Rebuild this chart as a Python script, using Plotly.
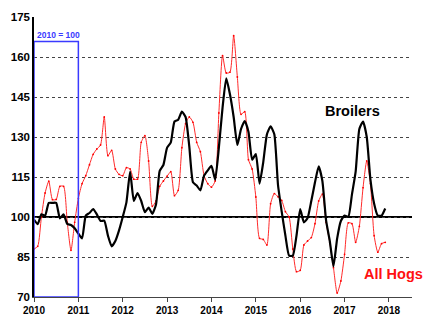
import plotly.graph_objects as go

start_year = 2010
broilers = [99, 97.3, 101, 100.5, 105.3, 105.3, 105.3, 99.5, 101, 97.4, 97, 95.8,
            93.8, 92, 100.5, 101.5, 103, 101, 98.5, 98.6, 93, 89, 91, 95,
            100, 105.5, 117, 106, 109, 106, 101.8, 103.5, 101.2, 104.7, 117.3, 119.5,
            126, 128, 135.8, 136.5, 139.5, 137.5, 126.5, 113, 111.8, 110, 115.5, 117.5,
            119.2, 114, 126, 141, 152, 146, 137.5, 127, 133, 136, 132, 121.5,
            123.6, 112.5, 120.5, 131, 134, 131, 112, 102, 93, 85.5, 85.5, 93,
            103, 98, 99.6, 106, 113, 119, 113.5, 98.7, 91, 81.5, 92, 98.5,
            100.5, 100, 108.5, 117, 133, 135.8, 130, 114, 105, 100.5, 100.5, 103.2]
hogs = [88, 89, 100, 109, 113.4, 106.5, 106.6, 111.5, 111.5, 98, 87.5, 98,
        107, 112.5, 115.5, 119.6, 123.5, 125.5, 127, 137.5, 123, 125, 118, 116,
        115.5, 118.5, 118, 114.2, 114.2, 128, 130.5, 121, 104, 106, 111.5, 113.5,
        115.3, 117, 108, 110, 126, 135, 137.5, 135.5, 128, 124.5, 115.5, 112.5,
        111.2, 113.5, 139, 160.5, 154, 154.3, 168, 152.5, 138.5, 139.5, 121.5, 118,
        107.5, 92, 91.6, 89.5, 105, 108.8, 107.6, 106.2, 102, 100, 88, 79.5,
        80, 89.5, 91, 92.3, 97.5, 106, 108.6, 98, 90.5, 81, 71.5, 76,
        86, 97.8, 97.5, 90.5, 96.5, 111, 121, 112.5, 93, 86.8, 90, 90.5]
x = [start_year + i / 12 for i in range(len(broilers))]

year_ticks = list(range(2010, 2019))
y_ticks = [70, 85, 100, 115, 130, 145, 160, 175]

fig = go.Figure()
fig.add_trace(go.Scatter(x=x, y=hogs, mode="lines+markers", name="All Hogs",
                         line=dict(color="#ff2a2a", width=1, shape="spline", smoothing=0.6),
                         marker=dict(color="#ff0000", size=1.8)))
fig.add_trace(go.Scatter(x=x, y=broilers, mode="lines", name="Broilers",
                         line=dict(color="black", width=2.2, shape="spline", smoothing=0.5)))

# baseline at 100
fig.add_shape(type="line", xref="paper", yref="y", x0=0, x1=1, y0=100, y1=100,
              line=dict(color="black", width=2), layer="below")
# 2010 base box
fig.add_shape(type="rect", xref="x", yref="y", x0=2010, x1=2011, y0=70, y1=165.8,
              line=dict(color="#3a3aff", width=1.5))
fig.add_annotation(x=2010.02, y=165.8, xref="x", yref="y", text="<b>2010 = 100</b>",
                   showarrow=False, xanchor="left", yanchor="bottom",
                   font=dict(family="Liberation Sans, Arial", size=8.5, color="#3a3aff"))
fig.add_annotation(x=2017.18, y=139.8, xref="x", yref="y", text="<b>Broilers</b>",
                   showarrow=False, font=dict(family="Liberation Sans, Arial", size=14.5, color="black"))
fig.add_annotation(x=2018.11, y=78.8, xref="x", yref="y", text="<b>All Hogs</b>",
                   showarrow=False, font=dict(family="Liberation Sans, Arial", size=14.5, color="#ff1010"))

fig.update_layout(
    width=436, height=327,
    margin=dict(l=33, r=24, t=11, b=25),
    paper_bgcolor="white", plot_bgcolor="white",
    showlegend=False,
    font=dict(family="Liberation Sans, Arial", color="black"),
    xaxis=dict(range=[2010, 2018.52], tickvals=year_ticks,
               ticktext=[f"<b>{y}</b>" for y in year_ticks],
               tickfont=dict(size=10), showgrid=False, zeroline=False,
               showline=True, linecolor="#444", linewidth=1,
               ticks="outside", ticklen=4, tickcolor="#444"),
    yaxis=dict(range=[70, 175], tickvals=y_ticks,
               ticktext=[f"<b>{v}</b>" for v in y_ticks],
               tickfont=dict(size=11.5), showgrid=True, gridcolor="#444",
               griddash="3px,3px", gridwidth=1, zeroline=False,
               showline=True, linecolor="black", linewidth=1.5, ticks=""),
)

fig.write_html("out.html")
